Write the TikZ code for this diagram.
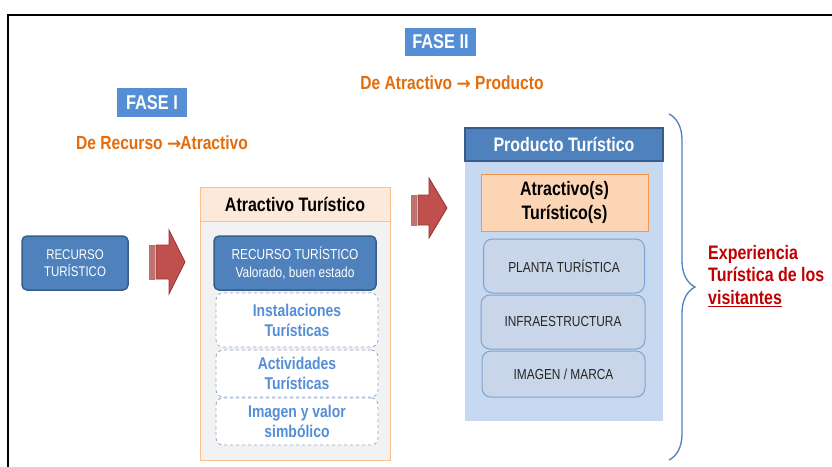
\documentclass[tikz,border=0pt]{standalone}
\usepackage{fontspec}
\setmainfont{Liberation Sans}
\newfontfamily\nar[FakeStretch=0.82]{Liberation Sans}
\newfontfamily\dvs{DejaVu Sans}
\usetikzlibrary{decorations.pathreplacing}
\definecolor{bfill}{HTML}{4F81BD}
\definecolor{bdraw}{HTML}{385D8A}
\definecolor{fasefill}{HTML}{558ED5}
\definecolor{orangetx}{HTML}{E46C0A}
\definecolor{peach}{HTML}{FDE9D9}
\definecolor{peachdraw}{HTML}{FAC090}
\definecolor{graybody}{HTML}{F2F2F2}
\definecolor{prodbody}{HTML}{C6D9F1}
\definecolor{atrfill}{HTML}{FCD5B5}
\definecolor{atrdraw}{HTML}{F79646}
\definecolor{pfill}{HTML}{C9D5E8}
\definecolor{pdraw}{HTML}{7EA3D0}
\definecolor{dashdraw}{HTML}{8EA9C8}
\definecolor{dashtext}{HTML}{558ED5}
\definecolor{arrfill}{HTML}{C0504D}
\definecolor{arrdraw}{HTML}{943634}
\definecolor{redtx}{HTML}{C00000}
\newcommand{\myarrow}{{\dvs\bfseries\fontsize{17}{19}\selectfont →}}
\begin{document}
\begin{tikzpicture}[x=1pt,y=-1pt,
  fase/.style={fill=fasefill, text=white, font=\nar\bfseries\fontsize{20}{22}\selectfont, inner sep=0pt},
  orangetxt/.style={text=orangetx, font=\nar\bfseries\fontsize{19}{22}\selectfont, inner sep=0pt},
  bluebox/.style={fill=bfill, draw=bdraw, line width=1.5pt, rounded corners=5pt, text=white, align=center, inner sep=0pt},
  atrhead/.style={fill=peach, draw=peachdraw, line width=1pt, font=\nar\bfseries\fontsize{19.5}{22}\selectfont, inner sep=0pt},
  atrbody/.style={fill=graybody, draw=peachdraw, line width=1pt, inner sep=0pt},
  dashbox/.style={fill=white, draw=dashdraw, dashed, line width=0.8pt, rounded corners=7pt, text=dashtext, align=center, font=\nar\bfseries\fontsize{17}{20}\selectfont, inner sep=0pt},
  prodhead/.style={fill=bfill, draw=bdraw, line width=1.2pt, text=white, font=\nar\bfseries\fontsize{19.5}{22}\selectfont, inner sep=0pt},
  prodbody/.style={fill=prodbody, inner sep=0pt},
  atrs/.style={fill=atrfill, draw=atrdraw, line width=1pt, align=center, font=\nar\bfseries\fontsize{19.5}{24}\selectfont, inner sep=0pt},
  pbox/.style={fill=pfill, draw=pdraw, line width=1pt, rounded corners=9pt, font=\nar\fontsize{14.5}{17}\selectfont, text=black!85, inner sep=0pt},
  blockarrow/.style={fill=arrfill, draw=arrdraw, line width=0.8pt},
  stripe/.style={fill=arrfill!80, draw=arrdraw!70, line width=0.4pt},
  bracestyle/.style={draw=bfill, line width=1.3pt, decorate, decoration={brace, amplitude=26pt}},
  redtxt/.style={text=redtx, font=\nar\bfseries\fontsize{19.5}{22.5}\selectfont, align=left, inner sep=0pt}
]
\useasboundingbox (0,0) rectangle (832,466);
\fill[white] (0,0) rectangle (832,466);
\draw[line width=1.8pt] (8,470) -- (8,15) -- (836,15);

% phases
\node[fase, minimum width=71, minimum height=28] (f2) at (440.5,42) {FASE II};
\node[orangetxt] (t2) at (452,83) {De Atractivo \myarrow{} Producto};
\node[fase, minimum width=70, minimum height=29] (f1) at (152,102.5) {FASE I};
\node[orangetxt] (t1) at (162,143) {De Recurso \myarrow{}\kern-1ptAtractivo};

% left resource
\node[bluebox, minimum width=106, minimum height=54, font=\nar\fontsize{14}{17}\selectfont] (rec) at (75,263) {RECURSO\\TURÍSTICO};

% arrow 1
\fill[stripe] (149,245) rectangle (151,279);
\fill[stripe] (152.5,245) rectangle (154.5,279);
\draw[blockarrow] (156,245) -- (169,245) -- (169,230) -- (185,262) -- (169,294) -- (169,279) -- (156,279) -- cycle;

% atractivo column
\node[atrbody, minimum width=190, minimum height=273] (atr) at (295,323.5) {};
\node[atrhead, minimum width=190, minimum height=34] (atrh) at (295,204) {Atractivo Turístico};
\node[bluebox, minimum width=162, minimum height=54, font=\nar\fontsize{14.5}{18}\selectfont] (rec2) at (295,263) {RECURSO TURÍSTICO\\Valorado, buen estado};
\node[dashbox, minimum width=162, minimum height=54] (inst) at (297,320) {Instalaciones\\Turísticas};
\node[dashbox, minimum width=162, minimum height=47] (act) at (297,373.5) {Actividades\\Turísticas};
\node[dashbox, minimum width=162, minimum height=47] (img) at (297,421.5) {Imagen y valor\\simbólico};

% arrow 2
\fill[stripe] (411,195) rectangle (413,225);
\fill[stripe] (414.5,195) rectangle (416.5,225);
\draw[blockarrow] (418,195) -- (429,195) -- (429,178) -- (447,208) -- (429,238) -- (429,225) -- (418,225) -- cycle;

% producto column
\node[prodbody, minimum width=198, minimum height=293] (prod) at (564,274.5) {};
\node[prodhead, minimum width=198, minimum height=33] (prodh) at (564,144.5) {Producto Turístico};
\node[atrs, minimum width=167, minimum height=57] (atrs) at (564.5,202.5) {Atractivo(s)\\Turístico(s)};
\node[pbox, minimum width=161, minimum height=54] (planta) at (564,266) {PLANTA TURÍSTICA};
\node[pbox, minimum width=164, minimum height=54] (infra) at (563,322) {INFRAESTRUCTURA};
\node[pbox, minimum width=163, minimum height=46] (imagen) at (563.5,374) {IMAGEN / MARCA};

% brace
\coordinate (bt) at (669,114);
\coordinate (bb) at (669,460);
\draw[bracestyle] (bt) -- (bb);

\node[redtxt, anchor=west] (exp) at (708,276) {Experiencia\\Turística de los\\\underline{visitantes}};
\end{tikzpicture}
\end{document}
